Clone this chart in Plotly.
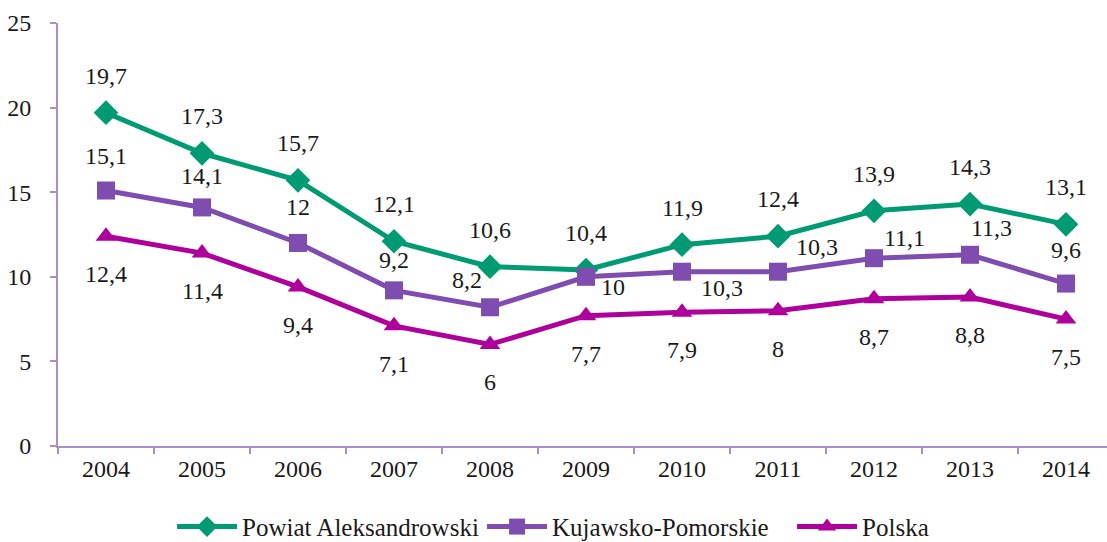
import plotly.graph_objects as go

years = ["2004", "2005", "2006", "2007", "2008", "2009", "2010", "2011", "2012", "2013", "2014"]
powiat = [19.7, 17.3, 15.7, 12.1, 10.6, 10.4, 11.9, 12.4, 13.9, 14.3, 13.1]
kujawsko = [15.1, 14.1, 12.0, 9.2, 8.2, 10.0, 10.3, 10.3, 11.1, 11.3, 9.6]
polska = [12.4, 11.4, 9.4, 7.1, 6.0, 7.7, 7.9, 8.0, 8.7, 8.8, 7.5]
names = ["Powiat Aleksandrowski", "Kujawsko-Pomorskie", "Polska"]

GREEN = "#009A73"
PURPLE = "#7F4DAF"
MAGENTA = "#AE009A"
AXIS = "#AA8ECC"
FONT = "Liberation Serif"
FS = 24

# label offsets (pixels, dx right, dy down) per point: style only
off_powiat = [(0, -37)] * 11
off_kuj = [(0, -35), (0, -31), (0, -36), (0, -30), (-23, -27),
           (27, 10), (40, 16), (39, -25), (30, -20), (21, -27), (0, -34)]
off_pol = [(0, 38)] * 11


def fmt(v):
    return ("%g" % v).replace(".", ",")


fig = go.Figure()
series = [
    (powiat, names[0], GREEN, "diamond", 19, off_powiat),
    (kujawsko, names[1], PURPLE, "square", 18, off_kuj),
    (polska, names[2], MAGENTA, "triangle-up", 18, off_pol),
]
for vals, name, col, sym, msize, offs in series:
    fig.add_trace(go.Scatter(
        x=years, y=vals, name=name, mode="lines+markers",
        line=dict(color=col, width=5),
        marker=dict(symbol=sym, size=msize, color=col),
    ))

for vals, name, col, sym, msize, offs in series:
    for i, (yv, (dx, dy)) in enumerate(zip(vals, offs)):
        # category index i refers to years[i]
        fig.add_annotation(
            x=i, y=yv, xref="x", yref="y", text=fmt(yv), showarrow=False,
            xshift=dx, yshift=-dy, font=dict(family=FONT, size=FS, color="#1a1a1a"),
        )

fig.update_layout(
    width=1107, height=542,
    margin=dict(l=58, r=0, t=23, b=96),
    paper_bgcolor="white", plot_bgcolor="white",
    font=dict(family=FONT, size=FS, color="#1a1a1a"),
    showlegend=True,
    legend=dict(orientation="h", x=0.552, xanchor="center", xref="paper",
                y=0.028, yref="container", yanchor="middle",
                itemwidth=60, entrywidth=235,
                font=dict(family=FONT, size=25)),
    xaxis=dict(type="category", range=[-0.5, 10.427], showgrid=False,
               showline=True, linecolor=AXIS, linewidth=2,
               ticks="outside", tickson="boundaries", ticklen=6, tickcolor=AXIS, tickwidth=2,
               tickfont=dict(family=FONT, size=FS), zeroline=False),
    yaxis=dict(range=[0, 25], tickvals=[0, 5, 10, 15, 20, 25], showgrid=False,
               showline=True, linecolor=AXIS, linewidth=2,
               ticks="outside", ticklen=6, tickcolor=AXIS, tickwidth=2,
               tickfont=dict(family=FONT, size=FS), zeroline=False,
               ticklabelstandoff=14),
)

fig.write_html("out.html", config={"displayModeBar": False},
               post_script="document.body.style.margin='0';")
